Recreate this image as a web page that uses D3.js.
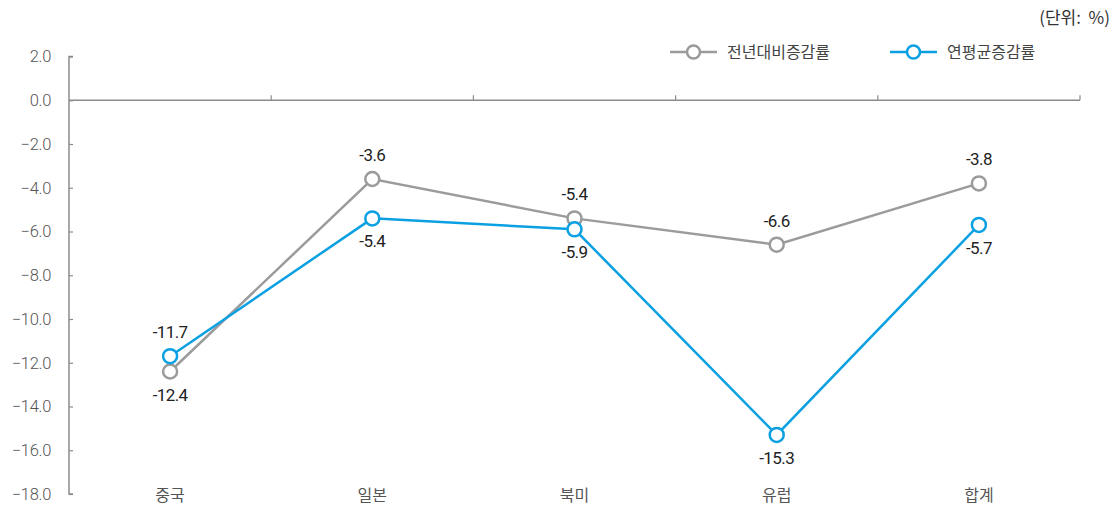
<!DOCTYPE html>
<html><head><meta charset="utf-8">
<script src="https://cdn.jsdelivr.net/npm/d3@7"></script>
<style>
body{margin:0;background:#fff;}
svg{display:block;}
</style></head>
<body><svg id="c" width="1116" height="510"></svg>
<script>
const categories = ["중국","일본","북미","유럽","합계"];
const yoyValues = [-12.4, -3.6, -5.4, -6.6, -3.8];
const cagrValues = [-11.7, -5.4, -5.9, -15.3, -5.7];
const seriesNames = ["전년대비증감률","연평균증감률"];
const yTicks = [2,0,-2,-4,-6,-8,-10,-12,-14,-16,-18];
const yoyLabelPos = ["below","above","above","above","above"];
const cagrLabelPos = ["above","below","below","below","below"];
const unitText = "(단위:\u00a0\u00a0%)";

const svg = d3.select("#c");
const left = 69, right = 1080;
const x = d3.scaleBand().domain(categories).range([left, right]);
const y = d3.scaleLinear().domain([-18, 2]).range([494, 56.5]);
const numFont = "'Roboto','Liberation Sans',sans-serif";
const krFont = "'Noto Sans CJK KR','Noto Sans',sans-serif";
const axisColor = "#8c8c8c";

// Y axis
const yAxis = d3.axisRight(y).tickValues(yTicks).tickSize(4).tickFormat(d => d.toFixed(1).replace("-", "\u2212"));
const gy = svg.append("g").attr("transform", `translate(${left},0)`).call(yAxis);
gy.select(".domain").attr("stroke", axisColor).attr("stroke-width", 1.5)
  .attr("d", `M4,${y(2)}H0V${y(-18)}H4`);
gy.selectAll(".tick line").attr("stroke", axisColor).attr("stroke-width", 1.2);
gy.selectAll(".tick text").attr("x", -18).attr("text-anchor", "end")
  .attr("font-family", numFont).attr("font-size", 16.5).attr("font-weight", 300)
  .attr("fill", "#555").attr("letter-spacing", "-0.3");

// X axis line at 0
const xAxis = d3.axisTop(x).tickSize(0).tickFormat("");
const gx = svg.append("g").attr("transform", `translate(0,${y(0)})`).call(xAxis);
gx.select(".domain").attr("stroke", axisColor).attr("stroke-width", 1.5).attr("d", `M${left},0H${right}`);
gx.selectAll(".tick").remove();
gx.selectAll("line.bnd").data(categories).enter().append("line")
  .attr("x1", d => x(d) + x.bandwidth()).attr("x2", d => x(d) + x.bandwidth())
  .attr("y1", 0).attr("y2", -5).attr("stroke", axisColor).attr("stroke-width", 1.2);

// category labels
svg.append("g").selectAll("text").data(categories).enter().append("text")
  .attr("x", d => x(d) + x.bandwidth() / 2).attr("y", 501)
  .attr("text-anchor", "middle").attr("font-family", krFont).attr("font-size", 16)
  .attr("fill", "#555").text(d => d);

const series = [
  {name: seriesNames[0], values: yoyValues, color: "#9b9b9b", pos: yoyLabelPos},
  {name: seriesNames[1], values: cagrValues, color: "#0aa0e2", pos: cagrLabelPos}
];
const line = d3.line().x((d, i) => x(categories[i]) + x.bandwidth() / 2).y(d => y(d));

series.forEach(s => {
  const g = svg.append("g");
  g.append("path").attr("d", line(s.values)).attr("fill", "none")
    .attr("stroke", s.color).attr("stroke-width", 2.5);
  g.selectAll("circle").data(s.values).enter().append("circle")
    .attr("cx", (d, i) => x(categories[i]) + x.bandwidth() / 2).attr("cy", d => y(d))
    .attr("r", 7).attr("fill", "#fff").attr("stroke", s.color).attr("stroke-width", 2.5);
});
series.forEach(s => {
  svg.append("g").selectAll("text").data(s.values).enter().append("text")
    .attr("x", (d, i) => x(categories[i]) + x.bandwidth() / 2)
    .attr("y", (d, i) => y(d) + (s.pos[i] === "above" ? -18 : 29))
    .attr("text-anchor", "middle").attr("font-family", numFont).attr("font-size", 17)
    .attr("fill", "#222").attr("letter-spacing", "-0.6").text(d => d.toFixed(1));
});

// legend
const legX = [670, 890];
series.forEach((s, i) => {
  const g = svg.append("g").attr("transform", `translate(${legX[i]},52)`);
  g.append("line").attr("x1", 0).attr("x2", 47).attr("y1", 0).attr("y2", 0)
    .attr("stroke", s.color).attr("stroke-width", 2.5);
  g.append("circle").attr("cx", 23.5).attr("cy", 0).attr("r", 6.5)
    .attr("fill", "#fff").attr("stroke", s.color).attr("stroke-width", 2.5);
  g.append("text").attr("x", 57).attr("y", 6).attr("font-family", krFont)
    .attr("font-size", 16).attr("fill", "#444").text(s.name);
});

svg.append("text").attr("x", 1110).attr("y", 24).attr("text-anchor", "end")
  .attr("font-family", krFont).attr("font-size", 17).attr("fill", "#333").text(unitText);
</script></body></html>
